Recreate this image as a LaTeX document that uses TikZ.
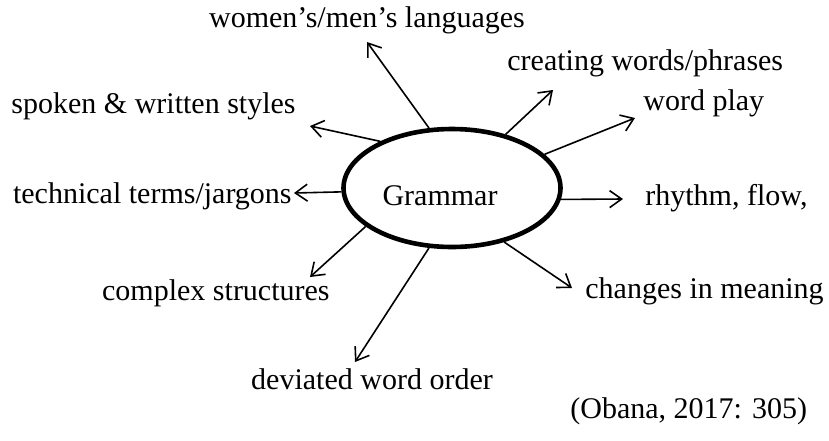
\documentclass[tikz,border=0pt]{standalone}
\usepackage{fontspec}
\setmainfont{Liberation Serif}
\usetikzlibrary{arrows.meta,shapes.geometric}

\begin{document}
\begin{tikzpicture}[x=0.5pt, y=-0.5pt, font=\fontsize{15}{18}\selectfont,
    >={Straight Barb[length=6pt,width=8.5pt]},
    spoke/.style={->, line width=0.8pt},
    lbl/.style={inner sep=0pt}]
  \useasboundingbox (0,0) rectangle (829,440);
  % central ellipse
  \node[ellipse, draw, line width=2.3pt, minimum width=108.5pt, minimum height=59pt, inner sep=0pt] (gram) at (452,188) {};
  \node[lbl, anchor=base] (gramtxt) at (440,205) {Grammar};
  % labels round it
  \node[lbl, anchor=base] (women) at (367,27) {women's/men's languages};
  \node[lbl, anchor=base west] (create) at (507,70) {creating words/phrases};
  \node[lbl, anchor=base east] (spoken) at (296,113) {spoken \& written styles};
  \node[lbl, anchor=base west] (play) at (643,110) {word play};
  \node[lbl, anchor=base east] (tech) at (292,203) {technical terms/jargons};
  \node[lbl, anchor=base west] (rhythm) at (645,205) {rhythm, flow,};
  \node[lbl, anchor=base east] (complex) at (330,300) {complex structures};
  \node[lbl, anchor=base west] (change) at (585,298) {changes in meaning};
  \node[lbl, anchor=base] (deviate) at (372,389) {deviated word order};
  \node[lbl, anchor=base west] (cite) at (570,418) {(Obana, 2017: 305)};
  % arrow tips
  \coordinate (t-women) at (367,42);
  \coordinate (t-spoken) at (310,126);
  \coordinate (t-tech) at (294,193);
  \coordinate (t-complex) at (310,277);
  \coordinate (t-deviate) at (355,362);
  \coordinate (t-create) at (553,90);
  \coordinate (t-play) at (635,118);
  \coordinate (t-rhythm) at (623,199);
  \coordinate (t-change) at (572,288);
  \foreach \a/\t in {111.5/women, 147/spoken, 182/tech, 204/complex, 249/deviate,
                     45/create, 20/play, -6/rhythm, -46/change}
    \draw[spoke] (gram.\a) -- (t-\t);
\end{tikzpicture}
\end{document}
